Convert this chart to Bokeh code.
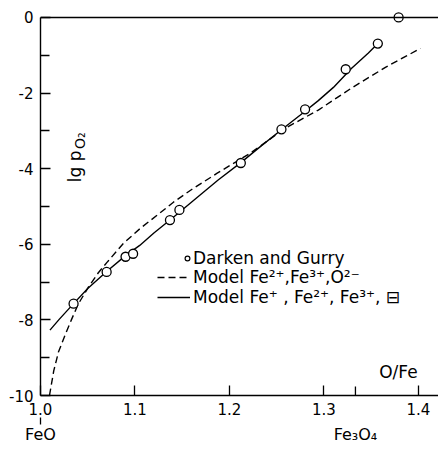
import math
from bokeh.plotting import figure
from bokeh.models import (FixedTicker, LinearAxis, Legend, LegendItem, Range1d,
                          PrintfTickFormatter, Span)
from bokeh.core.properties import value
from bokeh.embed import file_html
from bokeh.resources import INLINE

FONT = "DejaVu Sans"

# ---- data -----------------------------------------------------------------
dg_x = [1.035, 1.070, 1.090, 1.098, 1.137, 1.147, 1.212, 1.255, 1.280, 1.323, 1.357, 1.379]
dg_y = [-7.57, -6.73, -6.33, -6.25, -5.36, -5.09, -3.85, -2.96, -2.43, -1.37, -0.69, 0.0]

solid_x = [1.010, 1.020, 1.035, 1.050, 1.070, 1.090, 1.105, 1.120, 1.140, 1.160,
           1.188, 1.212, 1.231, 1.255, 1.275, 1.294, 1.310, 1.329, 1.347, 1.357]
solid_y = [-8.27, -7.98, -7.57, -7.17, -6.72, -6.30, -6.03, -5.70, -5.30, -4.88,
           -4.30, -3.84, -3.45, -2.97, -2.58, -2.20, -1.85, -1.35, -0.94, -0.69]

dash_x = [1.0095, 1.014, 1.019, 1.026, 1.033, 1.040, 1.051, 1.061, 1.071, 1.088,
          1.106, 1.124, 1.141, 1.160, 1.187, 1.222, 1.259, 1.294, 1.329, 1.365, 1.402]
dash_y = [-10.0, -9.35, -8.85, -8.40, -7.98, -7.58, -7.12, -6.76, -6.46, -5.97,
          -5.57, -5.22, -4.88, -4.55, -4.12, -3.59, -2.93, -2.45, -1.87, -1.32, -0.82]

x_ticks = [1.0, 1.1, 1.2, 1.3, 1.4]
fe3o4_x = 1.3333
feo_x = 1.0
y_ticks = [-10, -8, -6, -4, -2, 0]
y_minor = [-9, -7, -5, -3, -1]

label_dg = "Darken and Gurry"
label_m1 = "Model Fe²⁺,Fe³⁺,O²⁻"
label_m2 = "Model Fe⁺ , Fe²⁺, Fe³⁺, ⊟"

# ---- figure ---------------------------------------------------------------
p = figure(width=438, height=451, x_range=Range1d(1.0, 1.4212), y_range=Range1d(-10, 0.29),
           output_backend="svg", toolbar_location=None,
           x_axis_location=None, y_axis_location=None,
           min_border_left=40, min_border_right=0, min_border_top=6, min_border_bottom=56)
p.grid.visible = False
p.outline_line_color = None
p.background_fill_color = "white"

common = dict(axis_line_color="black", axis_line_width=1.4,
              major_tick_line_color="black", major_tick_line_width=1.3,
              minor_tick_line_color="black", minor_tick_line_width=1.3,
              major_label_text_font=FONT, major_label_text_font_size="15px",
              major_label_text_color="black")

# main O/Fe axis
xaxis = LinearAxis(ticker=FixedTicker(ticks=x_ticks),
                   formatter=PrintfTickFormatter(format="%.1f"),
                   major_tick_in=10, major_tick_out=0,
                   minor_tick_in=0, minor_tick_out=0,
                   major_label_standoff=7, **common)
p.add_layout(xaxis, "below")

# small tick under 1.0 (FeO); its label is invisible
xaxis2 = LinearAxis(ticker=FixedTicker(ticks=[feo_x]),
                    major_tick_in=0, major_tick_out=7,
                    minor_tick_in=0, minor_tick_out=0,
                    major_label_standoff=0, **common)
xaxis2.axis_line_color = None
xaxis2.major_label_text_font_size = "1px"
xaxis2.major_label_text_color = None
p.add_layout(xaxis2, "below")

# compound names
xaxis3 = LinearAxis(ticker=FixedTicker(ticks=[feo_x, fe3o4_x]),
                    major_label_overrides={feo_x: "FeO", fe3o4_x: "Fe₃O₄"},
                    major_tick_in=0, major_tick_out=0,
                    minor_tick_in=0, minor_tick_out=0,
                    major_label_standoff=0, **common)
xaxis3.axis_line_color = None
xaxis3.major_tick_line_color = None
xaxis3.major_label_text_font_size = "16px"
p.add_layout(xaxis3, "below")

yaxis = LinearAxis(ticker=FixedTicker(ticks=y_ticks, minor_ticks=y_minor),
                   formatter=PrintfTickFormatter(format="%d"),
                   bounds=(y_ticks[0], y_ticks[-1]),
                   major_tick_in=10, major_tick_out=0,
                   minor_tick_in=9, minor_tick_out=0,
                   major_label_standoff=7, **common)
p.add_layout(yaxis, "left")

# upper border line at lg pO2 = 0
p.add_layout(Span(location=y_ticks[-1], dimension="width", line_color="black",
                  line_width=1.4))

# Fe3O4 composition marker on the O/Fe axis (about 9 px high)
tick_len = 9 / 37.8
p.segment(x0=[fe3o4_x], y0=[y_ticks[0]], x1=[fe3o4_x], y1=[y_ticks[0] + tick_len],
          line_color="black", line_width=1.3)

# ---- data marks -----------------------------------------------------------
r_dash = p.line(dash_x, dash_y, line_color="black", line_width=1.4, line_dash="7 4")
r_solid = p.line(solid_x, solid_y, line_color="black", line_width=1.4)
# small key circle (hidden beneath the first data circle), used for the legend only
r_pts_key = p.scatter(dg_x[:1], dg_y[:1], marker="circle", size=6, fill_color="white",
                      line_color="black", line_width=1.2)
r_pts = p.scatter(dg_x, dg_y, marker="circle", size=9, fill_color="white",
                  line_color="black", line_width=1.3)

# ---- texts ----------------------------------------------------------------
p.text(x=[1.3788], y=[-9.39], text=["O/Fe"], text_align="center", text_baseline="middle",
       text_font=value(FONT), text_font_size="17px", text_color="black")
p.text(x=[1.0370], y=[-4.36], text=["lg p"], angle=math.pi / 2, text_align="left",
       text_baseline="alphabetic", text_font=value(FONT), text_font_size="17px",
       text_color="black")
p.text(x=[1.0413], y=[-3.48], text=["O₂"], angle=math.pi / 2, text_align="left",
       text_baseline="alphabetic", text_font=value(FONT), text_font_size="14px",
       text_color="black")

# ---- legends --------------------------------------------------------------
leg_common = dict(padding=0, margin=0, border_line_color=None, background_fill_alpha=0,
                  label_text_font=FONT, label_text_font_size="17px",
                  label_text_color="black", glyph_height=18, label_height=18, spacing=0)
leg1 = Legend(items=[LegendItem(label=label_dg, renderers=[r_pts_key])],
              location=(141, 127), glyph_width=12, label_standoff=0, **leg_common)
leg2 = Legend(items=[LegendItem(label=label_m1, renderers=[r_dash]),
                     LegendItem(label=label_m2, renderers=[r_solid])],
              location=(117, 88), glyph_width=33, label_standoff=3, **leg_common)
p.add_layout(leg1)
p.add_layout(leg2)

open("out.html", "w").write(file_html(p, INLINE))
